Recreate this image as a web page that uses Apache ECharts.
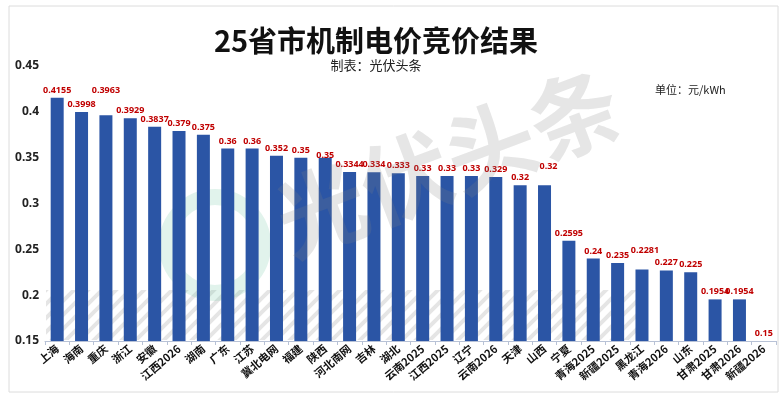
<!DOCTYPE html>
<html>
<head>
<meta charset="utf-8">
<script src="https://cdn.jsdelivr.net/npm/echarts@6/dist/echarts.min.js"></script>
<style>
  html, body { margin: 0; padding: 0; background: #fff; }
  #chart { width: 784px; height: 397px; }
</style>
</head>
<body>
<div id="chart"></div>
<script>
// 各省市机制电价竞价结果（元/kWh）
const categories = [
  '上海', '海南', '重庆', '浙江', '安徽', '江西2026', '湖南', '广东', '江苏', '冀北电网',
  '福建', '陕西', '河北南网', '吉林', '湖北', '云南2025', '江西2025', '辽宁', '云南2026', '天津',
  '山西', '宁夏', '青海2025', '新疆2025', '黑龙江', '青海2026', '山东', '甘肃2025', '甘肃2026', '新疆2026'
]
const prices = [
  0.4155, 0.3998, 0.3963, 0.3929, 0.3837, 0.379, 0.375, 0.36, 0.36, 0.352,
  0.35, 0.35, 0.3344, 0.334, 0.333, 0.33, 0.33, 0.33, 0.329, 0.32,
  0.32, 0.2595, 0.24, 0.235, 0.2281, 0.227, 0.225, 0.1954, 0.1954, 0.15
]
const yTicks = [0.15, 0.2, 0.25, 0.3, 0.35, 0.4, 0.45]

// 个别标签被挪开以免重叠
const labelShift = { 2: [0, -17], 11: [0, 5], 20: [4, -11], 24: [3, -11] }

const FONT = '"Noto Sans CJK SC", "Noto Sans", sans-serif'

const chart = echarts.init(document.getElementById('chart'))

const barData = prices.map((v, i) => {
  const item = { value: v }
  if (labelShift[i]) item.label = { offset: labelShift[i] }
  return item
})

// 斜纹底纹
function stripePattern() {
  const c = document.createElement('canvas')
  c.width = 14
  c.height = 14
  const ctx = c.getContext('2d')
  ctx.strokeStyle = 'rgba(150,150,150,0.55)'
  ctx.lineWidth = 4
  ctx.beginPath()
  ctx.moveTo(-2, 16); ctx.lineTo(16, -2)
  ctx.moveTo(-9, 9); ctx.lineTo(9, -9)
  ctx.moveTo(5, 23); ctx.lineTo(23, 5)
  ctx.stroke()
  return c
}

chart.setOption({
  animation: false,
  title: [
    {
      text: '25省市机制电价竞价结果',
      left: 371, top: 21, textAlign: 'center',
      textStyle: { fontFamily: FONT, fontSize: 29, fontWeight: 'bold', color: '#111' }
    },
    {
      text: '制表：光伏头条',
      left: 371, top: 54, textAlign: 'center',
      textStyle: { fontFamily: FONT, fontSize: 13, fontWeight: 'normal', color: '#222' }
    },
    {
      text: '单位：元/kWh',
      left: 650, top: 79,
      textStyle: { fontFamily: FONT, fontSize: 11, fontWeight: 'normal', color: '#222' }
    }
  ],
  graphic: [
    {
      type: 'rect', z: -10,
      shape: { x: 9, y: 6, width: 769, height: 386 },
      style: { fill: '#fff', stroke: '#dcdcdc', lineWidth: 1 }
    },
    {
      type: 'rect', z: -5,
      shape: { x: 46, y: 290, width: 600, height: 50 },
      style: { fill: { image: stripePattern(), repeat: 'repeat' }, opacity: 0.45 }
    },
    {
      type: 'circle', z: -5,
      shape: { cx: 215, cy: 245, r: 48 },
      style: { fill: 'none', stroke: 'rgba(120,200,170,0.22)', lineWidth: 16 }
    },
    {
      type: 'text', z: 100,
      x: 448, y: 162, rotation: 0.36,
      style: {
        text: '光伏头条', font: 'bold 90px "Noto Sans CJK SC"',
        fill: 'rgba(130,130,130,0.2)', align: 'center', verticalAlign: 'middle'
      }
    }
  ],
  grid: { left: 45, right: 8, top: 66, bottom: 56 },
  xAxis: {
    type: 'category',
    data: categories,
    axisLine: { lineStyle: { color: '#b8c2d6' } },
    axisTick: { show: true, length: 4, lineStyle: { color: '#b8c2d6' } },
    axisLabel: {
      interval: 0, rotate: 40, margin: 6,
      fontFamily: FONT, fontSize: 11, fontWeight: 'bold', color: '#111'
    }
  },
  yAxis: {
    type: 'value',
    min: yTicks[0], max: yTicks[yTicks.length - 1], interval: 0.05,
    axisLine: { show: false },
    axisTick: { show: false },
    splitLine: { show: false },
    axisLabel: {
      margin: 6,
      fontFamily: '"Noto Sans", sans-serif', fontSize: 12, fontWeight: 'bold', color: '#222',
      formatter: v => String(parseFloat(v.toFixed(2)))
    }
  },
  series: [{
    type: 'bar',
    data: barData,
    barWidth: 13,
    itemStyle: { color: '#2b55a5' },
    label: {
      show: true, position: 'top', distance: 3,
      fontFamily: '"Noto Sans", sans-serif', fontSize: 9, fontWeight: 'bold', color: '#c00000',
      formatter: p => String(p.value)
    }
  }]
})
</script>
</body>
</html>
